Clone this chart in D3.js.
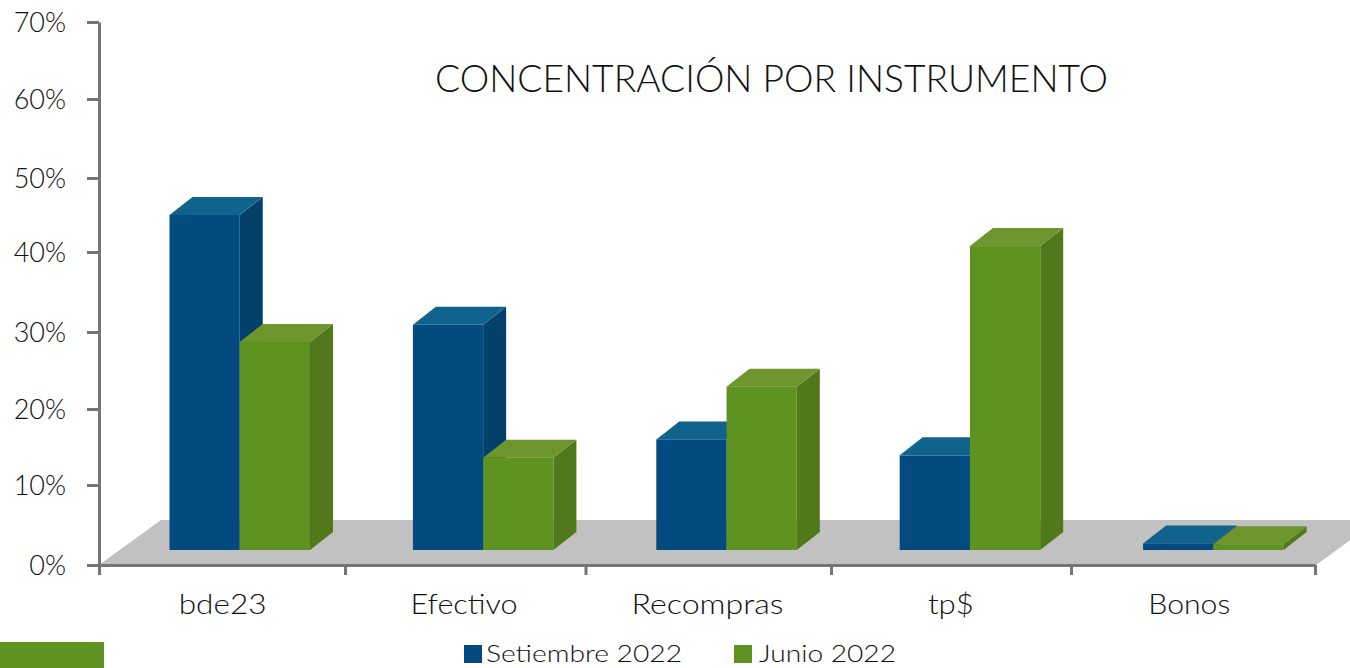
<!DOCTYPE html>
<html>
<head>
<meta charset="utf-8">
<script src="https://cdn.jsdelivr.net/npm/d3@7"></script>
<style>
    html, body { margin: 0; padding: 0; background: white; overflow: hidden; }
    svg { display: block; }
    text { font-family: Lato, "Open Sans", sans-serif; font-weight: 300; fill: #111; }
    .axis path, .axis line { stroke: #757575; stroke-width: 3; }
</style>
</head>
<body>
<div id="chart"></div>
<script>
// The data (percent, as read against the axis)
var categories = ["bde23", "Efectivo", "Recompras", "tp$", "Bonos"];
var seriesNames = ["Setiembre 2022", "Junio 2022"];
var setiembreValues = [45.0, 30.9, 16.0, 13.9, 2.7];
var junioValues = [28.7, 13.6, 22.9, 40.8, 2.6];
var yTicks = [0, 10, 20, 30, 40, 50, 60, 70];
var titleText = "CONCENTRACIÓN POR INSTRUMENTO";

var seriesValues = [setiembreValues, junioValues];

// Colors for each series: front, top and side of the box
var seriesColors = [
    { front: "#034A80", top: "#10638C", side: "#034169" },
    { front: "#5F9321", top: "#6F952E", side: "#51781A" }
];

var width = 1350;
var height = 668;
var barDepthX = 23, barDepthY = 18;
var floorDepthX = 62, floorDepthY = 45;
var barBase = 550;

var svg = d3.select("#chart")
    .append("svg")
    .attr("width", width)
    .attr("height", height);

// Y scale goes through the tick pixels since the picture's ticks are slightly uneven
var y = d3.scaleLinear()
    .domain(yTicks)
    .range([565, 485, 409, 332, 252, 178, 99, 22]);

// Band scale for the groups and an inner one for the two bars
var x0 = d3.scaleBand().domain(categories).range([99, 1316]);
var x1 = d3.scaleBand().domain(seriesNames).range([70.5, 211]);

// Boundary ticks on the x axis
var xTickScale = d3.scaleLinear()
    .domain([0, 1, 2, 3, 4, 5])
    .range([99, 345, 585.5, 831, 1071, 1315]);

// Grey floor under the bars
var floorPoints = [
    [99, 565],
    [99 + floorDepthX, 565 - floorDepthY],
    [1316 + floorDepthX, 565 - floorDepthY],
    [1316, 565]
];
svg.append("polygon")
    .attr("points", floorPoints.join(" "))
    .attr("fill", "#C1C1C1");

// Drawing the boxes, the side first and the front last
categories.forEach(function (category, c) {
    seriesNames.forEach(function (name, s) {
        var colors = seriesColors[s];
        var left = x0(category) + x1(name);
        var right = left + x1.bandwidth();
        var top = y(seriesValues[s][c]);

        svg.append("polygon")
            .attr("points", [[right, top], [right + barDepthX, top - barDepthY], [right + barDepthX, barBase - barDepthY], [right, barBase]].join(" "))
            .attr("fill", colors.side);
        svg.append("polygon")
            .attr("points", [[left, top], [left + barDepthX, top - barDepthY], [right + barDepthX, top - barDepthY], [right, top]].join(" "))
            .attr("fill", colors.top);
        svg.append("rect")
            .attr("x", left)
            .attr("y", top)
            .attr("width", x1.bandwidth())
            .attr("height", barBase - top)
            .attr("fill", colors.front);
    });
});

// Y axis
var yAxis = svg.append("g")
    .attr("class", "axis")
    .attr("transform", "translate(99, 0)")
    .call(d3.axisLeft(y).tickValues(yTicks).tickSize(12).tickSizeOuter(0).tickPadding(20).tickFormat(d => d + "%"));
yAxis.selectAll("text")
    .attr("font-size", 27)
    .attr("dy", "0.36em")
    .attr("x", -33);

// X axis, only the ticks
svg.append("g")
    .attr("class", "axis")
    .attr("transform", "translate(0, 565)")
    .call(d3.axisBottom(xTickScale).tickValues([0, 1, 2, 3, 4, 5]).tickSize(10).tickSizeOuter(0).tickFormat(""));

// Category labels, nudged and stretched to where they sit in the picture
var labelNudge = [2, 0, 0, 0, -5];
var labelWidths = [88, 107, 152, 46, 82];
svg.selectAll(".category")
    .data(categories)
    .enter()
    .append("text")
    .attr("class", "category")
    .attr("x", (d, i) => x0(d) + x0.bandwidth() / 2 + labelNudge[i])
    .attr("y", 614)
    .attr("text-anchor", "middle")
    .attr("font-size", 27)
    .attr("textLength", (d, i) => labelWidths[i])
    .attr("lengthAdjust", "spacingAndGlyphs")
    .text(d => d);

// Title
svg.append("text")
    .attr("x", 435)
    .attr("y", 92)
    .attr("font-size", 37)
    .attr("textLength", 673)
    .attr("lengthAdjust", "spacingAndGlyphs")
    .text(titleText);

// Legend
var legendItems = [
    { x: 464, textX: 486, textWidth: 196 },
    { x: 734, textX: 759, textWidth: 137 }
];
seriesNames.forEach(function (name, s) {
    svg.append("rect")
        .attr("x", legendItems[s].x)
        .attr("y", 645)
        .attr("width", 18)
        .attr("height", 18)
        .attr("fill", seriesColors[s].front);
    svg.append("text")
        .attr("x", legendItems[s].textX)
        .attr("y", 662)
        .attr("font-size", 24)
        .attr("textLength", legendItems[s].textWidth)
        .attr("lengthAdjust", "spacingAndGlyphs")
        .text(name);
});

// Green strip in the bottom corner
svg.append("rect")
    .attr("x", 0)
    .attr("y", 642)
    .attr("width", 104)
    .attr("height", 26)
    .attr("fill", "#5F9321");
</script>
</body>
</html>
